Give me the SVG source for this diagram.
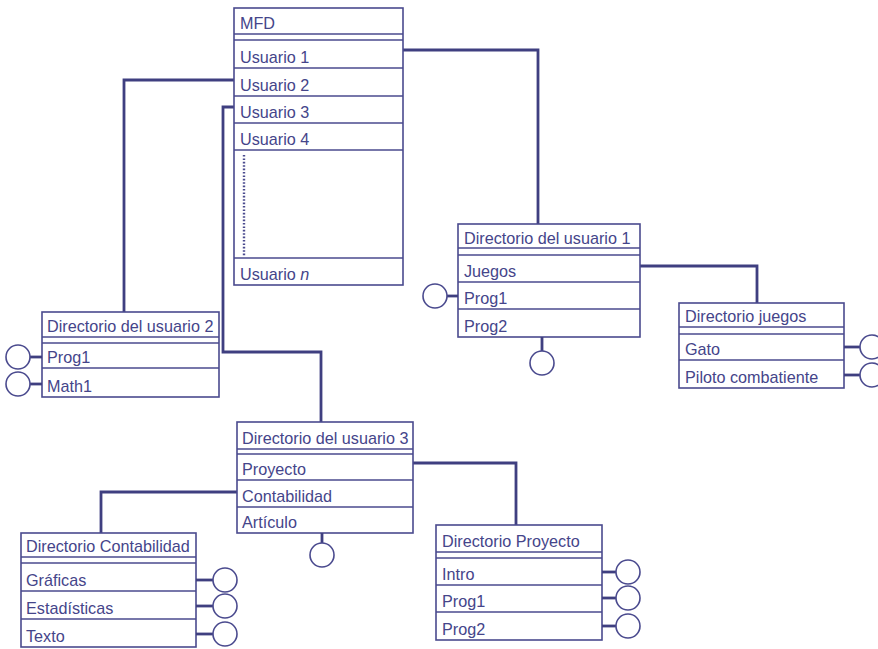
<svg xmlns="http://www.w3.org/2000/svg" width="878" height="649" viewBox="0 0 878 649">
<style>
.bx{fill:#fff;stroke:#4a4a8e;stroke-width:1.6}
.ln{stroke:#4a4a8e;stroke-width:1.5}
.t{font-family:"Liberation Sans",Arial,sans-serif;font-size:16.2px;fill:#45458a}
.cn{fill:none;stroke:#3f3f80;stroke-width:2.8}
.cc{fill:#fff;stroke:#4a4a8e;stroke-width:1.6}
.st{stroke:#3f3f80;stroke-width:2.8}
</style>
<rect width="878" height="649" fill="#fff"/>
<g id="connectors">
<path class="cn" d="M403,50 H538 V224"/>
<path class="cn" d="M234,80 H124 V312"/>
<path class="cn" d="M234,107 H223 V352 H321 V422"/>
<path class="cn" d="M640,266 H757 V303"/>
<path class="cn" d="M413,463 H516 V525"/>
<path class="cn" d="M237,492 H101 V533"/>
</g>
<g id="mfd">
<rect class="bx" x="234" y="8" width="169" height="277"/>
<line class="ln" x1="234" y1="34" x2="403" y2="34"/>
<line class="ln" x1="234" y1="40" x2="403" y2="40"/>
<line class="ln" x1="234" y1="68" x2="403" y2="68"/>
<line class="ln" x1="234" y1="96" x2="403" y2="96"/>
<line class="ln" x1="234" y1="123" x2="403" y2="123"/>
<line class="ln" x1="234" y1="150" x2="403" y2="150"/>
<line class="ln" x1="234" y1="258" x2="403" y2="258"/>
<line x1="244" y1="155" x2="244" y2="256" stroke="#4a4a8e" stroke-width="2.4" stroke-dasharray="1.6 1.8"/>
<text class="t" x="240" y="29">MFD</text>
<text class="t" x="240" y="63">Usuario 1</text>
<text class="t" x="240" y="91">Usuario 2</text>
<text class="t" x="240" y="118">Usuario 3</text>
<text class="t" x="240" y="145">Usuario 4</text>
<text class="t" x="240" y="280">Usuario <tspan font-style="italic">n</tspan></text>
</g>
<g id="dir1">
<rect class="bx" x="458" y="224" width="182" height="113"/>
<line class="ln" x1="458" y1="248" x2="640" y2="248"/>
<line class="ln" x1="458" y1="255" x2="640" y2="255"/>
<line class="ln" x1="458" y1="282" x2="640" y2="282"/>
<line class="ln" x1="458" y1="309" x2="640" y2="309"/>
<text class="t" x="464" y="244">Directorio del usuario 1</text>
<text class="t" x="464" y="277">Juegos</text>
<text class="t" x="464" y="304">Prog1</text>
<text class="t" x="464" y="332">Prog2</text>
<line class="st" x1="447" y1="296" x2="458" y2="296"/>
<circle class="cc" cx="435" cy="296" r="12"/>
<line class="st" x1="542" y1="337" x2="542" y2="351"/>
<circle class="cc" cx="542" cy="363" r="12"/>
</g>
<g id="dirjuegos">
<rect class="bx" x="679" y="303" width="165" height="85"/>
<line class="ln" x1="679" y1="327" x2="844" y2="327"/>
<line class="ln" x1="679" y1="334" x2="844" y2="334"/>
<line class="ln" x1="679" y1="360" x2="844" y2="360"/>
<text class="t" x="685" y="322">Directorio juegos</text>
<text class="t" x="685" y="355">Gato</text>
<text class="t" x="685" y="383">Piloto combatiente</text>
<line class="st" x1="844" y1="347" x2="860" y2="347"/>
<circle class="cc" cx="872" cy="347" r="12"/>
<line class="st" x1="844" y1="375" x2="860" y2="375"/>
<circle class="cc" cx="872" cy="375" r="12"/>
</g>
<g id="dir2">
<rect class="bx" x="42" y="312" width="177" height="85"/>
<line class="ln" x1="42" y1="337" x2="219" y2="337"/>
<line class="ln" x1="42" y1="343" x2="219" y2="343"/>
<line class="ln" x1="42" y1="368" x2="219" y2="368"/>
<text class="t" x="47" y="332">Directorio del usuario 2</text>
<text class="t" x="47" y="363">Prog1</text>
<text class="t" x="47" y="392">Math1</text>
<line class="st" x1="30" y1="357" x2="42" y2="357"/>
<circle class="cc" cx="18" cy="357" r="12"/>
<line class="st" x1="30" y1="384" x2="42" y2="384"/>
<circle class="cc" cx="18" cy="384" r="12"/>
</g>
<g id="dir3">
<rect class="bx" x="237" y="422" width="176" height="111"/>
<line class="ln" x1="237" y1="449" x2="413" y2="449"/>
<line class="ln" x1="237" y1="454" x2="413" y2="454"/>
<line class="ln" x1="237" y1="480" x2="413" y2="480"/>
<line class="ln" x1="237" y1="507" x2="413" y2="507"/>
<text class="t" x="242" y="444">Directorio del usuario 3</text>
<text class="t" x="242" y="475">Proyecto</text>
<text class="t" x="242" y="502">Contabilidad</text>
<text class="t" x="242" y="528">Artículo</text>
<line class="st" x1="322" y1="533" x2="322" y2="543"/>
<circle class="cc" cx="322" cy="555" r="12"/>
</g>
<g id="dircontabilidad">
<rect class="bx" x="21" y="533" width="175" height="114"/>
<line class="ln" x1="21" y1="557" x2="196" y2="557"/>
<line class="ln" x1="21" y1="563" x2="196" y2="563"/>
<line class="ln" x1="21" y1="591" x2="196" y2="591"/>
<line class="ln" x1="21" y1="619" x2="196" y2="619"/>
<text class="t" x="26" y="552">Directorio Contabilidad</text>
<text class="t" x="26" y="586">Gráficas</text>
<text class="t" x="26" y="614">Estadísticas</text>
<text class="t" x="26" y="642">Texto</text>
<line class="st" x1="196" y1="580" x2="213" y2="580"/>
<circle class="cc" cx="225" cy="580" r="12"/>
<line class="st" x1="196" y1="606" x2="213" y2="606"/>
<circle class="cc" cx="225" cy="606" r="12"/>
<line class="st" x1="196" y1="634" x2="213" y2="634"/>
<circle class="cc" cx="225" cy="634" r="12"/>
</g>
<g id="dirproyecto">
<rect class="bx" x="436" y="525" width="166" height="115"/>
<line class="ln" x1="436" y1="552" x2="602" y2="552"/>
<line class="ln" x1="436" y1="558" x2="602" y2="558"/>
<line class="ln" x1="436" y1="585" x2="602" y2="585"/>
<line class="ln" x1="436" y1="612" x2="602" y2="612"/>
<text class="t" x="442" y="547">Directorio Proyecto</text>
<text class="t" x="442" y="580">Intro</text>
<text class="t" x="442" y="607">Prog1</text>
<text class="t" x="442" y="635">Prog2</text>
<line class="st" x1="602" y1="572" x2="616" y2="572"/>
<circle class="cc" cx="628" cy="572" r="12"/>
<line class="st" x1="602" y1="598" x2="616" y2="598"/>
<circle class="cc" cx="628" cy="598" r="12"/>
<line class="st" x1="602" y1="626" x2="616" y2="626"/>
<circle class="cc" cx="628" cy="626" r="12"/>
</g>
</svg>
